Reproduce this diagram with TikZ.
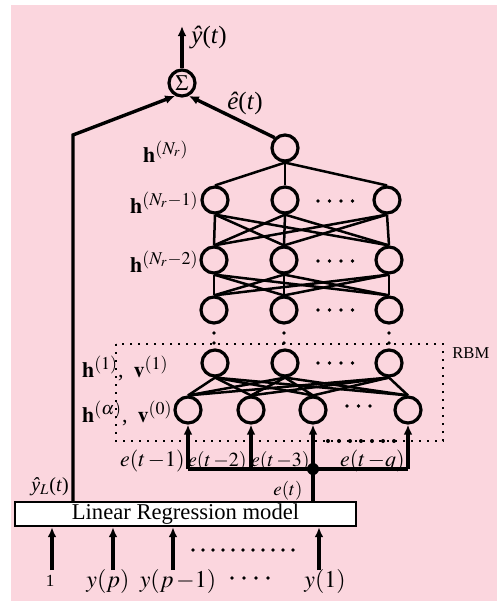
\documentclass[tikz,border=0pt]{standalone}
\usepackage{mathptmx}
\usepackage[no-math]{fontspec}
\setmainfont{Liberation Serif}
\usetikzlibrary{arrows.meta,calc}
\definecolor{pinkbg}{RGB}{251,214,222}
\DeclareMathSizes{11}{11}{9}{7}
\DeclareMathSizes{12}{12}{9}{7}
\begin{document}
\begin{tikzpicture}[x=0.5pt,y=-0.5pt,
 neuron/.style={circle,draw,line width=1.6pt,minimum size=13pt,inner sep=0pt},
 edge/.style={line width=1.25pt},
 wire/.style={line width=1.7pt},
 arr/.style={wire,-{Latex[length=5pt,width=4.4pt]}},
 lbl/.style={inner sep=0pt,font=\fontsize{11}{13}\selectfont},
 slbl/.style={inner sep=0pt,font=\fontsize{10}{12}\selectfont},
 rbm/.style={line width=0.8pt,dash pattern=on 0.8pt off 3.2pt}]
\path[use as bounding box] (0,0) rectangle (497,601);
\fill[white] (0,0) rectangle (497,601);
\fill[pinkbg] (11,5) rectangle (497,601);

% sum node and output
\node[neuron,font=\fontsize{11}{13}\selectfont] (sig) at (182,83) {$\Sigma$};
\coordinate (yout) at (182,26);
\draw[arr] (sig) -- (yout);
\node[inner sep=0pt,anchor=west,font=\fontsize{12.5}{14}\selectfont] (ylab) at (191,37) {\textit{ŷ}(\textit{t})};

% network nodes
\node[neuron] (T) at (285,148) {};
\node[neuron] (a1) at (215,200) {};
\node[neuron] (a2) at (285,200) {};
\node[neuron] (a3) at (387,200) {};
\node[neuron] (b1) at (214,260) {};
\node[neuron] (b2) at (284,260) {};
\node[neuron] (b3) at (389,260) {};
\node[neuron] (c1) at (214,310) {};
\node[neuron] (c2) at (284,310) {};
\node[neuron] (c3) at (389,310) {};
\node[neuron] (d1) at (215,363) {};
\node[neuron] (d2) at (285,363) {};
\node[neuron] (d3) at (389,363) {};
\node[neuron] (v1) at (188,410) {};
\node[neuron] (v2) at (251,410) {};
\node[neuron] (v3) at (313,410) {};
\node[neuron] (v4) at (408,410) {};

\foreach \l in {a1,a2,a3} \draw[edge] (T.south) -- (\l.north);
\foreach \u in {a1,a2,a3} \foreach \l in {b1,b2,b3} \draw[edge] (\u.south) -- (\l.north);
\foreach \u in {b1,b2,b3} \foreach \l in {c1,c2,c3} \draw[edge] (\u.south) -- (\l.north);
\foreach \u in {d1,d2,d3} \foreach \l in {v1,v2,v3,v4} \draw[edge] (\u.south) -- (\l.north);

% ellipsis dots in layers
\foreach \y in {201,261,310,363} \foreach \x in {318,329.5,341,352.5} \fill (\x,\y) circle (0.9pt);
\foreach \x in {347,358.5,370} \fill (\x,406) circle (0.9pt);
% vertical dots
\foreach \x in {214,284,389} \foreach \y in {333,343} \fill (\x,\y) circle (0.9pt);

% RBM box
\draw[rbm] (116,344) rectangle (443,441);
\node[inner sep=0pt,anchor=west,font=\fontsize{8.3}{10}\selectfont] (rbmlab) at (452,353) {RBM};
\foreach \x in {328,339,350,361,372,383,394} \fill (\x,441) circle (1pt);

% hat e(t)
\draw[arr] (T.135) -- (sig.-62);
\node[inner sep=0pt,font=\fontsize{12.5}{14}\selectfont] (elab) at (245,103) {\textit{ê}(\textit{t})};

% layer labels
\node[lbl,anchor=base east] (hN) at (189,162) {$\mathbf{h}^{(N_r)}$};
\node[lbl,anchor=base east] (hN1) at (199,213) {$\mathbf{h}^{(N_r-1)}$};
\node[lbl,anchor=base east] (hN2) at (199,272) {$\mathbf{h}^{(N_r-2)}$};
\node[lbl,anchor=base east] (h1) at (169,377) {$\mathbf{h}^{(1)}$,\hspace{0.45em}$\mathbf{v}^{(1)}$};
\node[lbl,anchor=base east] (h0) at (173,422) {$\mathbf{h}^{(\alpha)}$,\hspace{0.45em}$\mathbf{v}^{(0)}$};

% linear regression box
\node[draw,fill=white,line width=1.2pt,minimum width=170.5pt,minimum height=12pt,inner sep=0pt,
  font=\fontsize{11.3}{13}\selectfont] (lr) at (185.5,514) {Linear Regression model};

% left path
\coordinate (bend) at (73,135);
\draw[arr] (lr.north -| bend) -- (bend) -- (sig.-118);
\node[inner sep=0pt,font=\fontsize{10}{12}\selectfont,anchor=base] (ylab2) at (50,491) {\textit{ŷ}$_L$(\textit{t})};

% error bus
\coordinate (e1) at (188,469);
\coordinate (e2) at (251,469);
\coordinate (e3) at (313,469);
\coordinate (e4) at (408,469);
\draw[wire] (e1) -- (e4);
\draw[wire] (lr.north -| e3) -- (e3);
\fill (e3) circle (3pt);
\draw[arr] (e1) -- (v1);
\draw[arr] (e2) -- (v2);
\draw[arr] (e3) -- (v3);
\draw[arr] (e4) -- (v4);
\node[inner sep=0pt,font=\fontsize{9.5}{11}\selectfont,anchor=base east] (etl) at (303,495) {$e(t)$};
\node[inner sep=0pt,font=\fontsize{11}{13}\selectfont,anchor=base east] (et1) at (185,466) {$e(t\,{-}1)$};
\node[slbl,anchor=base east] (et2) at (247,466) {$e(t\,{-}2)$};
\node[slbl,anchor=base east] (et3) at (310,466) {$e(t\,{-}3)$};
\node[inner sep=0pt,font=\fontsize{11}{13}\selectfont,anchor=base east] (etq) at (405,466) {$e(t\,{-}q)$};

% inputs
\foreach \n/\x in {i1/52,i2/113,i3/173,i4/319} {
  \coordinate (\n) at (\x,570);
  \draw[arr] (\n) -- (lr.south -| \n);
}
\foreach \x in {193,203,...,293} \fill (\x,550) circle (0.9pt);
\node[inner sep=0pt,font=\fontsize{8.5}{10}\selectfont] (l1) at (50,581) {1};
\node[inner sep=0pt,font=\fontsize{12}{14}\selectfont] (lp) at (108,581) {$y(p)$};
\node[inner sep=0pt,font=\fontsize{12}{14}\selectfont] (lp1) at (178,581) {$y(p\,{-}1)$};
\foreach \x in {232,244,256,268} \fill (\x,578) circle (0.9pt);
\node[inner sep=0pt,font=\fontsize{12}{14}\selectfont] (ly1) at (325,581) {$y(1)$};
\end{tikzpicture}
\end{document}
